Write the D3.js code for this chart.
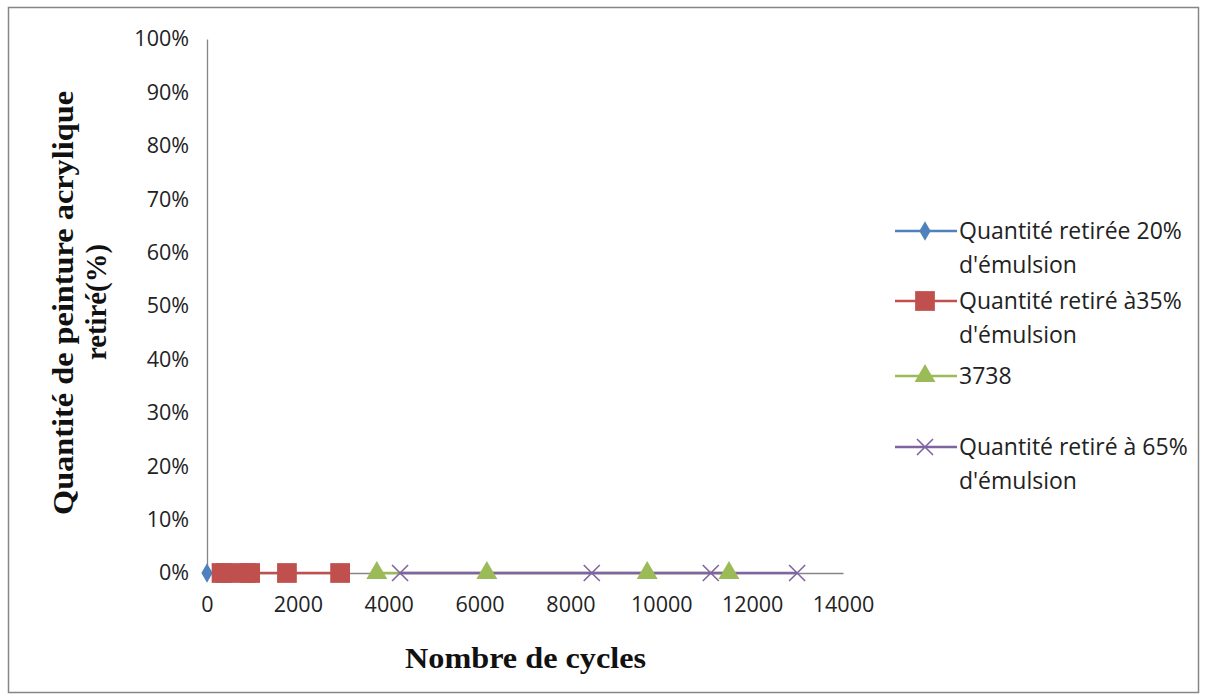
<!DOCTYPE html>
<html>
<head>
<meta charset="utf-8">
<script src="https://cdnjs.cloudflare.com/ajax/libs/d3/7.8.5/d3.min.js"></script>
<style>
  body { margin: 0; background: #fff; }
  svg { display: block; }
</style>
</head>
<body>
<div id="chart"></div>
<script>
// series data (x = nombre de cycles, y = fraction retirée)
const seriesNames = ["Quantité retirée 20% d'émulsion", "Quantité retiré à35% d'émulsion", "3738", "Quantité retiré à 65% d'émulsion"];
const cycles20 = [0, 250, 600, 1000];
const values20 = [0, 0, 0, 0];
const cycles35 = [320, 420, 850, 950, 1760, 2930];
const values35 = [0, 0, 0, 0, 0, 0];
const cycles50 = [3738, 6160, 9690, 11490];
const values50 = [0, 0, 0, 0];
const cycles65 = [4250, 8470, 11090, 12990];
const values65 = [0, 0, 0, 0];
const xTicks = [0, 2000, 4000, 6000, 8000, 10000, 12000, 14000];
const yTicks = [0, 0.1, 0.2, 0.3, 0.4, 0.5, 0.6, 0.7, 0.8, 0.9, 1];

const colors = ["#4F81BD", "#C0504D", "#9BBB59", "#8064A2"];
const shapes = ["diamond", "square", "triangle", "cross"];

const W = 1207, H = 700;
const margin = { left: 207, top: 39, right: 364, bottom: 127 };
const width = W - margin.left - margin.right;
const height = H - margin.top - margin.bottom;

const svg = d3.select("#chart").append("svg")
    .attr("width", W)
    .attr("height", H);

// outer chart border
svg.append("rect")
    .attr("x", 8.5).attr("y", 7.5)
    .attr("width", W - 17).attr("height", H - 15)
    .attr("fill", "#fff")
    .attr("stroke", "#868686")
    .attr("stroke-width", 1.5);

const g = svg.append("g")
    .attr("transform", `translate(${margin.left},${margin.top})`);

const x = d3.scaleLinear().domain([0, 14000]).range([0, width]);
const y = d3.scaleLinear().domain([0, 1]).range([height, 0]);

// Y axis
const yAxis = g.append("g")
    .call(d3.axisLeft(y).tickValues(yTicks).tickFormat(d3.format(".0%")).tickSize(0).tickPadding(18));
yAxis.select(".domain").attr("stroke", "#868686").attr("stroke-width", 1.3);
yAxis.selectAll("text")
    .style("font-family", "'Open Sans', sans-serif")
    .style("font-size", "21.5px")
    .attr("fill", "#222");

// X axis
const xAxis = g.append("g")
    .attr("transform", `translate(0,${height})`)
    .call(d3.axisBottom(x).tickValues(xTicks).tickFormat(d3.format("d")).tickSize(0).tickPadding(24));
xAxis.select(".domain").attr("stroke", "#868686").attr("stroke-width", 1.3);
xAxis.selectAll("text")
    .style("font-family", "'Open Sans', sans-serif")
    .style("font-size", "21.5px")
    .attr("fill", "#222");

// axis titles
g.append("text")
    .attr("x", 198)
    .attr("y", height + 95)
    .attr("textLength", 241)
    .attr("lengthAdjust", "spacingAndGlyphs")
    .style("font-family", "'Liberation Serif', 'Times New Roman', serif")
    .style("font-weight", "bold")
    .style("font-size", "29px")
    .attr("fill", "#111")
    .text("Nombre de cycles");

const yTitle = svg.append("text")
    .attr("transform", "translate(73,515) rotate(-90)")
    .style("font-family", "'Liberation Serif', 'Times New Roman', serif")
    .style("font-weight", "bold")
    .style("font-size", "29px")
    .attr("fill", "#111");
yTitle.append("tspan").attr("x", 0).attr("y", 0)
    .attr("textLength", 424).attr("lengthAdjust", "spacingAndGlyphs")
    .text("Quantité de peinture acrylique");
yTitle.append("tspan").attr("x", 155).attr("y", 33)
    .attr("textLength", 116).attr("lengthAdjust", "spacingAndGlyphs")
    .text("retiré(%)");

// marker symbols
const symbolFor = {
  diamond: d3.symbol().type(d3.symbolDiamond).size(110),
  square: d3.symbol().type(d3.symbolSquare).size(390),
  triangle: d3.symbol().type(d3.symbolTriangle).size(190),
  cross: d3.symbol().type(d3.symbolX).size(170)
};

function drawMarker(sel, i) {
  if (shapes[i] === "cross") {
    sel.attr("d", symbolFor.cross()).attr("fill", "none")
      .attr("stroke", colors[i]).attr("stroke-width", 1.6);
  } else {
    sel.attr("d", symbolFor[shapes[i]]()).attr("fill", colors[i]);
  }
}

const seriesData = [
  d3.zip(cycles20, values20),
  d3.zip(cycles35, values35),
  d3.zip(cycles50, values50),
  d3.zip(cycles65, values65)
];

const line = d3.line().x(d => x(d[0])).y(d => y(d[1]));

seriesData.forEach((data, i) => {
  g.append("path")
    .datum(data)
    .attr("fill", "none")
    .attr("stroke", colors[i])
    .attr("stroke-width", 2.5)
    .attr("d", line);
});

// markers drawn in series order (later ones on top)
seriesData.forEach((data, i) => {
  g.selectAll(".m" + i)
    .data(data)
    .enter()
    .append("path")
    .attr("class", "m" + i)
    .attr("transform", d => `translate(${x(d[0])},${y(d[1])})`)
    .each(function () { drawMarker(d3.select(this), i); });
});

// legend
const legendRows = [
  { lines: ["Quantité retirée 20%", "d'émulsion"], y: 231 },
  { lines: ["Quantité retiré à35%", "d'émulsion"], y: 301 },
  { lines: ["3738"], y: 376 },
  { lines: ["Quantité retiré à 65%", "d'émulsion"], y: 447 }
];

const legend = svg.append("g");
legendRows.forEach((r, i) => {
  const lg = legend.append("g").attr("transform", `translate(0,${r.y})`);
  lg.append("line")
    .attr("x1", 895).attr("x2", 957)
    .attr("stroke", colors[i]).attr("stroke-width", 2.5);
  lg.append("path")
    .attr("transform", "translate(925,0)")
    .call(s => drawMarker(s, i));
  const t = lg.append("text")
    .attr("x", 959)
    .attr("y", 8)
    .style("font-family", "'Open Sans', sans-serif")
    .style("font-size", "23px")
    .attr("fill", "#222");
  r.lines.forEach((l, k) => {
    t.append("tspan").attr("x", 959).attr("dy", k === 0 ? 0 : 34).text(l);
  });
});
</script>
</body>
</html>
